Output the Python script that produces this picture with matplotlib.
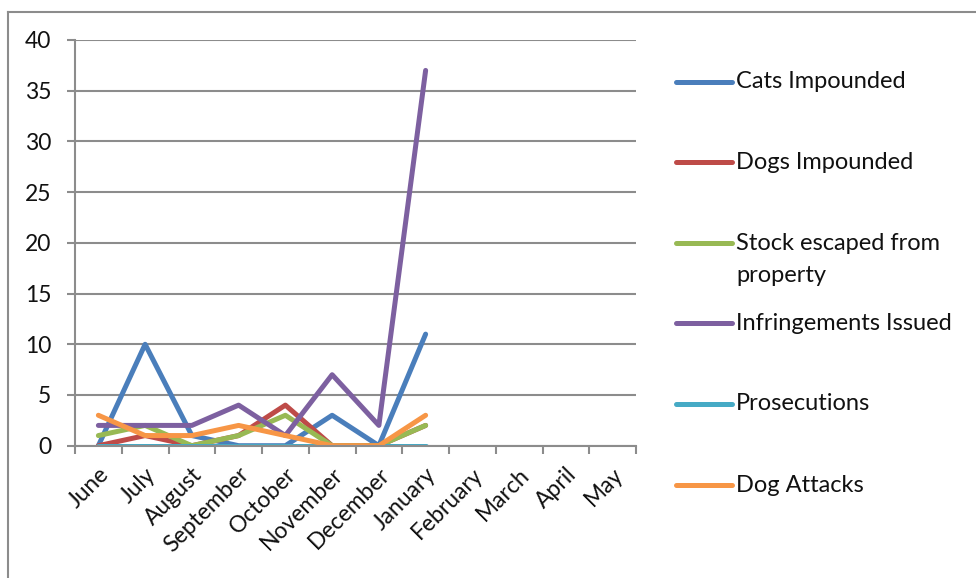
import numpy as np
import matplotlib
matplotlib.use('Agg')
import matplotlib.pyplot as plt
from matplotlib.lines import Line2D

plt.rcParams['font.family'] = ['Lato', 'DejaVu Sans']

months = ['June', 'July', 'August', 'September', 'October', 'November',
          'December', 'January', 'February', 'March', 'April', 'May']
nan = np.nan
cats = [0, 10, 1, 0, 0, 3, 0, 11, nan, nan, nan, nan]
dogs = [0, 1, 0, 1, 4, 0, 0, 2, nan, nan, nan, nan]
stock = [1, 2, 0, 1, 3, 0, 0, 2, nan, nan, nan, nan]
infringements = [2, 2, 2, 4, 1, 7, 2, 37, nan, nan, nan, nan]
prosecutions = [0, 0, 0, 0, 0, 0, 0, 0, nan, nan, nan, nan]
dog_attacks = [3, 1, 1, 2, 1, 0, 0, 3, nan, nan, nan, nan]

series = [
    ('Cats Impounded', cats, '#4A7EBB'),
    ('Dogs Impounded', dogs, '#BE4B48'),
    ('Stock escaped from\nproperty', stock, '#98B954'),
    ('Infringements Issued', infringements, '#7D60A0'),
    ('Prosecutions', prosecutions, '#46AAC5'),
    ('Dog Attacks', dog_attacks, '#F79646'),
]

W, H = 976, 578
fig = plt.figure(figsize=(W / 100, H / 100), dpi=100)
ax = fig.add_axes([75 / W, 1 - 445.7 / H, (636 - 75) / W, (445.7 - 40) / H])

x = np.arange(len(months))
for name, vals, col in series:
    ax.plot(x, vals, color=col, lw=3.6, solid_capstyle='round', solid_joinstyle='round')

gray = '#8C8C8C'
ax.set_xlim(-0.5, len(months) - 0.5)
ax.set_ylim(0, 40)
ax.set_yticks(range(0, 41, 5))
ax.yaxis.grid(True, color=gray, lw=1.5)
ax.set_axisbelow(True)
for s in ['top', 'right']:
    ax.spines[s].set_visible(False)
for s in ['left', 'bottom']:
    ax.spines[s].set_color(gray)
    ax.spines[s].set_linewidth(1.5)

# ticks at category boundaries, labels at centres
ax.set_xticks(np.arange(-0.5, len(months), 1.0))
ax.set_xticklabels([])
ax.set_xticks(x, minor=True)
ax.set_xticklabels(months, minor=True, rotation=45, ha='right', rotation_mode='anchor')
ax.tick_params(axis='x', which='major', length=6, width=1.5, color=gray)
ax.tick_params(axis='x', which='minor', length=0, pad=13, labelsize=16.5, labelcolor='#111111')
ax.tick_params(axis='y', length=6, width=1.5, color=gray, pad=11, labelsize=16.5,
               labelcolor='#111111')

# legend drawn by hand to match the spreadsheet layout
leg_y = [82, 162, 243, 323, 404, 485]
for (name, vals, col), yy in zip(series, leg_y):
    fy = 1 - yy / H
    fig.add_artist(Line2D([676 / W, 732 / W], [fy, fy], color=col, lw=3.6,
                          solid_capstyle='round'))
    lines = name.split('\n')
    for k, t in enumerate(lines):
        fig.text(736 / W, 1 - (yy + 32 * k) / H, t, fontsize=17,
                 va='center', ha='left', color='#111111')

# chart border (left and top visible)
fig.add_artist(Line2D([8 / W, 8 / W], [0, 1 - 12 / H], color=gray, lw=1.5))
fig.add_artist(Line2D([8 / W, 1], [1 - 12 / H, 1 - 12 / H], color=gray, lw=1.5))

fig.savefig('out.png', dpi=100)
